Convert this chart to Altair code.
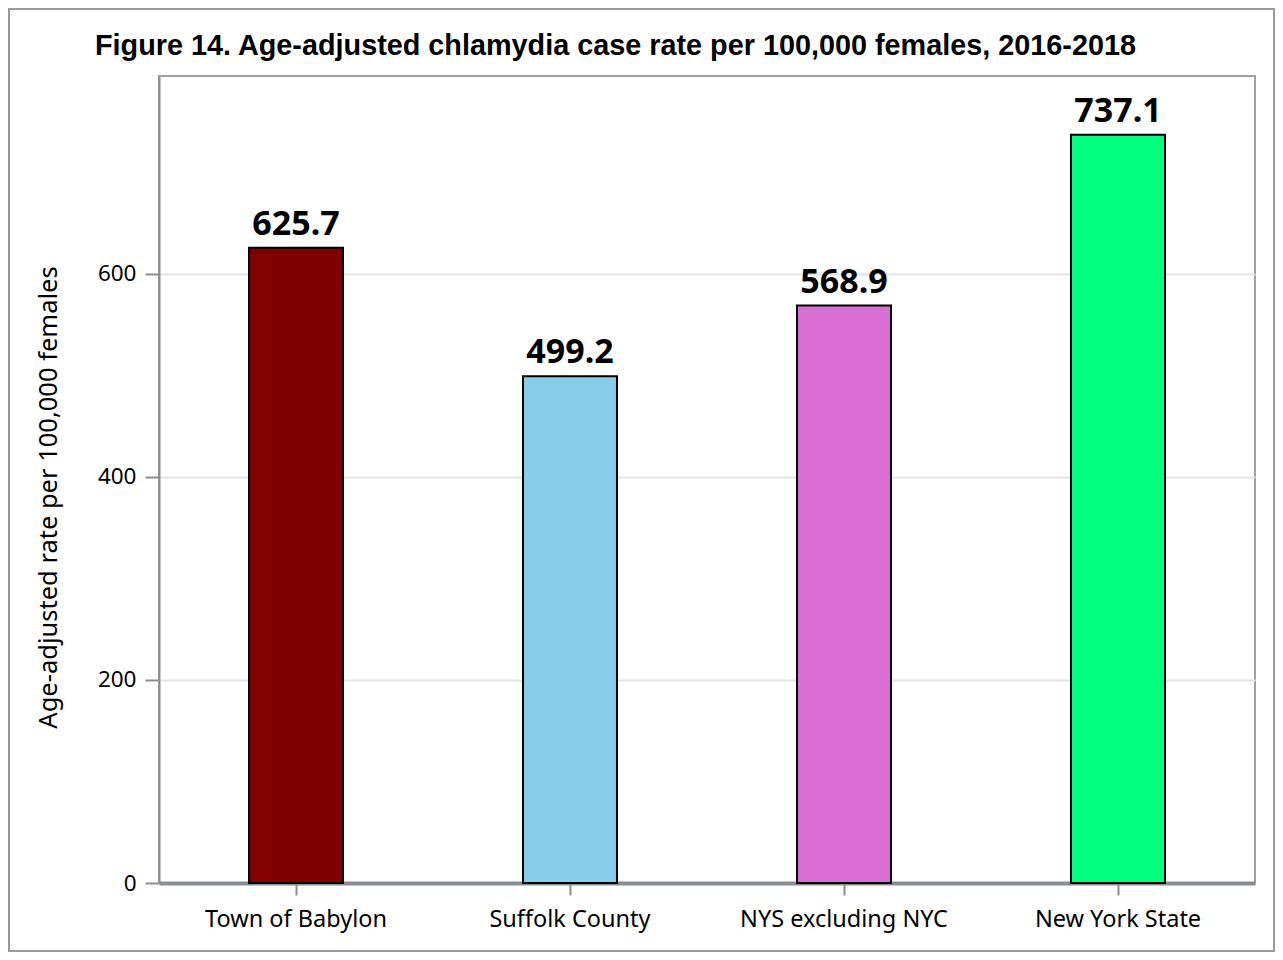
import altair as alt
import pandas as pd

categories = ["Town of Babylon", "Suffolk County", "NYS excluding NYC", "New York State"]
rates = [625.7, 499.2, 568.9, 737.1]
labels = ["625.7", "499.2", "568.9", "737.1"]
colors = ["#800000", "#87CEEB", "#DA70D6", "#00FF7F"]
title_text = "Figure 14. Age-adjusted chlamydia case rate per 100,000 females, 2016-2018"

df = pd.DataFrame({"region": categories, "rate": rates, "label": labels})

W, H = 1096, 807
PAD_L, PAD_T, PAD_R, PAD_B = 151, 68, 20, 69

x = alt.X("region:N", sort=categories, title=None,
          scale=alt.Scale(paddingInner=0.657, paddingOuter=0.3285),
          axis=alt.Axis(labelAngle=0, labelFont="Noto Sans", labelFontSize=23.5,
                        labelColor="#000", labelPadding=12, labelLimit=0, tickSize=12,
                        tickColor="#8a8d91", tickWidth=2, domainColor="#8a8d91",
                        domainWidth=4, grid=False))
y = alt.Y("rate:Q", title="Age-adjusted rate per 100,000 females",
          scale=alt.Scale(domain=[0, 795], nice=False),
          axis=alt.Axis(values=[0, 200, 400, 600], labelFont="Noto Sans",
                        labelFontSize=22.5, labelColor="#000", labelPadding=9,
                        tickSize=14, tickColor="#8a8d91", tickWidth=2,
                        domainColor="#8a8d91", domainWidth=2,
                        gridColor="#e3e3e3", gridWidth=2,
                        titleFont="Noto Sans", titleFontSize=25.5,
                        titleFontWeight="normal", titleColor="#000",
                        titlePadding=36, titleY=421))

bars = alt.Chart(df).mark_bar(stroke="#000", strokeWidth=2).encode(
    x=x, y=y,
    color=alt.Color("region:N", sort=categories,
                    scale=alt.Scale(domain=categories, range=colors), legend=None),
)

text = alt.Chart(df).mark_text(font="Noto Sans", fontSize=34, fontWeight="bold",
                               color="#000", baseline="alphabetic", dy=-13).encode(
    x=alt.X("region:N", sort=categories),
    y=alt.Y("rate:Q"),
    text="label:N",
)

title = alt.Chart(alt.Data(values=[{"t": title_text}])).mark_text(
    font="Liberation Sans", fontSize=28.8, fontWeight="bold", color="#000",
    align="left", baseline="alphabetic", clip=False
).encode(x=alt.value(-64), y=alt.value(-21), text="t:N")

border = alt.Chart(alt.Data(values=[{"a": 1}])).mark_rect(
    fill=None, stroke="#9a9a9a", strokeWidth=2, clip=False
).encode(
    x=alt.value(-PAD_L + 1), x2=alt.value(W + PAD_R - 1),
    y=alt.value(-PAD_T + 1), y2=alt.value(H + PAD_B - 1),
)

chart = alt.layer(bars, text, title, border).properties(
    width=W, height=H,
    autosize=alt.AutoSizeParams(type="none"),
    padding={"left": PAD_L, "top": PAD_T, "right": PAD_R, "bottom": PAD_B},
).configure_view(stroke="#a0a0a0", strokeWidth=2)

chart.save("out.html", embed_options={"renderer": "svg", "actions": False})
